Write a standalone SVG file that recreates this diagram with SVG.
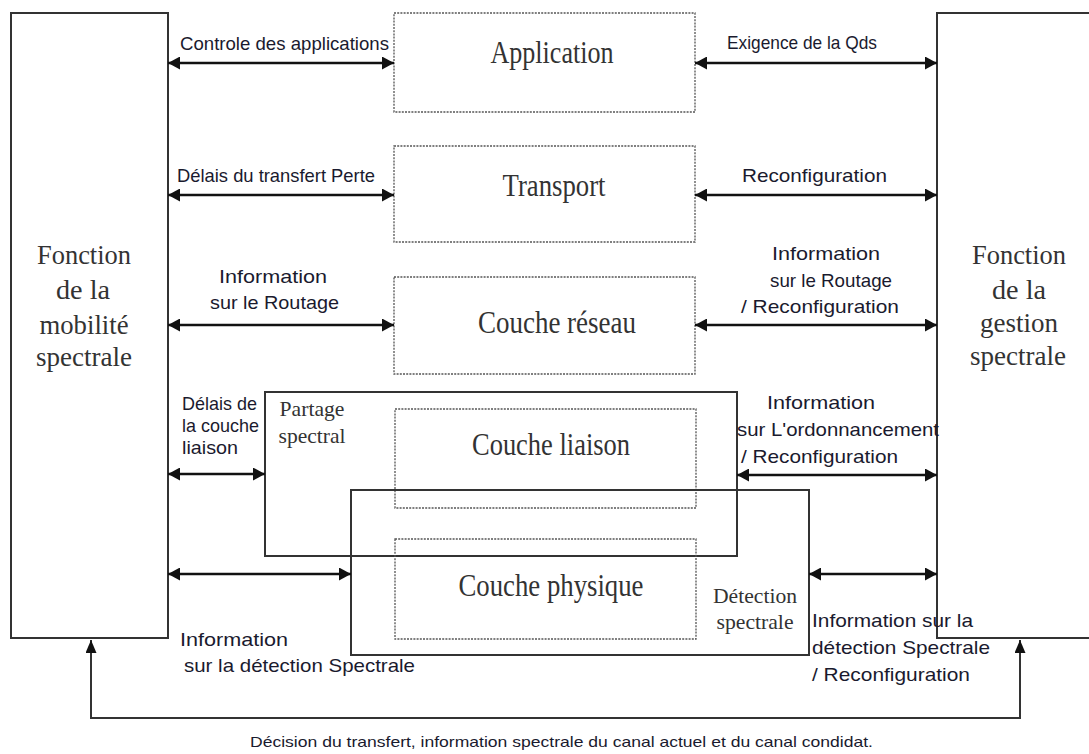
<svg xmlns="http://www.w3.org/2000/svg" width="1089" height="754" viewBox="0 0 1089 754">
<style>
.side{fill:none;stroke:#333;stroke-width:2}
.frame{fill:none;stroke:#333;stroke-width:2}
.layer{fill:none;stroke:#555;stroke-width:1.3;stroke-dasharray:2 1.2}
.serif{font-family:"Liberation Serif","Times New Roman",serif;fill:#333;text-anchor:middle}
.big{font-size:31px}
.mid{font-size:27px}
.small{font-size:21px}
.lbl{font-family:"Liberation Sans",Arial,sans-serif;font-size:19px;fill:#1a1a2e}
.cap{font-family:"Liberation Sans",Arial,sans-serif;font-size:15px;fill:#1a1a2e}
.arr{fill:none;stroke:#111;stroke-width:2.5;marker-start:url(#ah);marker-end:url(#ah)}
.fb{fill:none;stroke:#333;stroke-width:2;marker-start:url(#ah2);marker-end:url(#ah2)}
</style>
<defs>
<marker id="ah" viewBox="0 0 12 12" refX="12" refY="6" markerWidth="12" markerHeight="13" markerUnits="userSpaceOnUse" orient="auto-start-reverse" preserveAspectRatio="none">
<path d="M0,0 L12,6 L0,12 z" fill="#111"/>
</marker>
<marker id="ah2" viewBox="0 0 12 12" refX="12" refY="6" markerWidth="13" markerHeight="11" markerUnits="userSpaceOnUse" orient="auto-start-reverse" preserveAspectRatio="none">
<path d="M0,0 L12,6 L0,12 z" fill="#111"/>
</marker>
</defs>
<rect width="1089" height="754" fill="#fff"/>

<g id="mobilite">
<rect class="side" x="11" y="13" width="157" height="625"/>
<text class="serif mid" x="84" y="264" textLength="94" lengthAdjust="spacingAndGlyphs">Fonction</text>
<text class="serif mid" x="83" y="299" textLength="54" lengthAdjust="spacingAndGlyphs">de la</text>
<text class="serif mid" x="84" y="334" textLength="89" lengthAdjust="spacingAndGlyphs">mobilité</text>
<text class="serif mid" x="84" y="366" textLength="96" lengthAdjust="spacingAndGlyphs">spectrale</text>
</g>

<g id="gestion">
<rect class="side" x="937" y="13" width="170" height="625"/>
<text class="serif mid" x="1019" y="264" textLength="94" lengthAdjust="spacingAndGlyphs">Fonction</text>
<text class="serif mid" x="1019" y="299" textLength="54" lengthAdjust="spacingAndGlyphs">de la</text>
<text class="serif mid" x="1019" y="332" textLength="78" lengthAdjust="spacingAndGlyphs">gestion</text>
<text class="serif mid" x="1018" y="365" textLength="96" lengthAdjust="spacingAndGlyphs">spectrale</text>
</g>

<g id="application">
<rect class="layer" x="394" y="13" width="301" height="99"/>
<text class="serif big" x="552" y="63" textLength="123" lengthAdjust="spacingAndGlyphs">Application</text>
</g>

<g id="transport">
<rect class="layer" x="394" y="146" width="301" height="96"/>
<text class="serif big" x="554" y="196" textLength="103" lengthAdjust="spacingAndGlyphs">Transport</text>
</g>

<g id="reseau">
<rect class="layer" x="394" y="277" width="301" height="97"/>
<text class="serif big" x="557" y="333" textLength="158" lengthAdjust="spacingAndGlyphs">Couche réseau</text>
</g>

<g id="partage">
<rect class="frame" x="265" y="392" width="472" height="164"/>
<text class="serif small" x="312" y="416" textLength="65" lengthAdjust="spacingAndGlyphs">Partage</text>
<text class="serif small" x="312" y="443" textLength="67" lengthAdjust="spacingAndGlyphs">spectral</text>
</g>

<g id="liaison">
<rect class="layer" x="395" y="409" width="301" height="99"/>
<text class="serif big" x="551" y="455" textLength="158" lengthAdjust="spacingAndGlyphs">Couche liaison</text>
</g>

<g id="detection">
<rect class="frame" x="351" y="490" width="458" height="165"/>
<text class="serif small" x="755" y="603" textLength="84" lengthAdjust="spacingAndGlyphs">Détection</text>
<text class="serif small" x="755" y="629" textLength="77" lengthAdjust="spacingAndGlyphs">spectrale</text>
</g>

<g id="physique">
<rect class="layer" x="395" y="539" width="301" height="100" fill="#fff"/>
<text class="serif big" x="551" y="596" textLength="185" lengthAdjust="spacingAndGlyphs">Couche physique</text>
</g>

<g id="connectors">
<line class="arr" x1="168" y1="63" x2="394" y2="63"/>
<line class="arr" x1="695" y1="63" x2="937" y2="63"/>
<line class="arr" x1="168" y1="195" x2="394" y2="195"/>
<line class="arr" x1="695" y1="195" x2="937" y2="195"/>
<line class="arr" x1="168" y1="325" x2="394" y2="325"/>
<line class="arr" x1="695" y1="325" x2="937" y2="325"/>
<line class="arr" x1="168" y1="474" x2="265" y2="474"/>
<line class="arr" x1="737" y1="475" x2="937" y2="475"/>
<line class="arr" x1="168" y1="574" x2="351" y2="574"/>
<line class="arr" x1="809" y1="574" x2="937" y2="574"/>
<path class="fb" d="M91,640 V718 H1020 V640"/>
</g>

<g id="labels">
<text class="lbl" x="180" y="50" textLength="209" lengthAdjust="spacingAndGlyphs">Controle des applications</text>
<text class="lbl" x="177" y="182" textLength="198" lengthAdjust="spacingAndGlyphs">Délais du transfert Perte</text>
<text class="lbl" x="727" y="49" textLength="150" lengthAdjust="spacingAndGlyphs">Exigence de la Qds</text>
<text class="lbl" x="742" y="182" textLength="145" lengthAdjust="spacingAndGlyphs">Reconfiguration</text>
<text class="lbl" x="219" y="283" textLength="108" lengthAdjust="spacingAndGlyphs">Information</text>
<text class="lbl" x="210" y="309" textLength="129" lengthAdjust="spacingAndGlyphs">sur le Routage</text>
<text class="lbl" x="772" y="260" textLength="108" lengthAdjust="spacingAndGlyphs">Information</text>
<text class="lbl" x="770" y="287" textLength="122" lengthAdjust="spacingAndGlyphs">sur le Routage</text>
<text class="lbl" x="741" y="313" textLength="158" lengthAdjust="spacingAndGlyphs">/ Reconfiguration</text>
<text class="lbl" x="182" y="410" textLength="75" lengthAdjust="spacingAndGlyphs">Délais de</text>
<text class="lbl" x="182" y="432" textLength="77" lengthAdjust="spacingAndGlyphs">la couche</text>
<text class="lbl" x="182" y="454" textLength="56" lengthAdjust="spacingAndGlyphs">liaison</text>
<text class="lbl" x="767" y="409" textLength="108" lengthAdjust="spacingAndGlyphs">Information</text>
<text class="lbl" x="737" y="436" textLength="202" lengthAdjust="spacingAndGlyphs">sur L'ordonnancement</text>
<text class="lbl" x="741" y="463" textLength="157" lengthAdjust="spacingAndGlyphs">/ Reconfiguration</text>
<text class="lbl" x="180" y="646" textLength="108" lengthAdjust="spacingAndGlyphs">Information</text>
<text class="lbl" x="184" y="672" textLength="231" lengthAdjust="spacingAndGlyphs">sur la détection Spectrale</text>
<text class="lbl" x="812" y="627" textLength="161" lengthAdjust="spacingAndGlyphs">Information sur la</text>
<text class="lbl" x="812" y="654" textLength="178" lengthAdjust="spacingAndGlyphs">détection Spectrale</text>
<text class="lbl" x="812" y="681" textLength="158" lengthAdjust="spacingAndGlyphs">/ Reconfiguration</text>
<text class="cap" x="250" y="747" textLength="623" lengthAdjust="spacingAndGlyphs">Décision du transfert, information spectrale du canal actuel et du canal condidat.</text>
</g>
</svg>
